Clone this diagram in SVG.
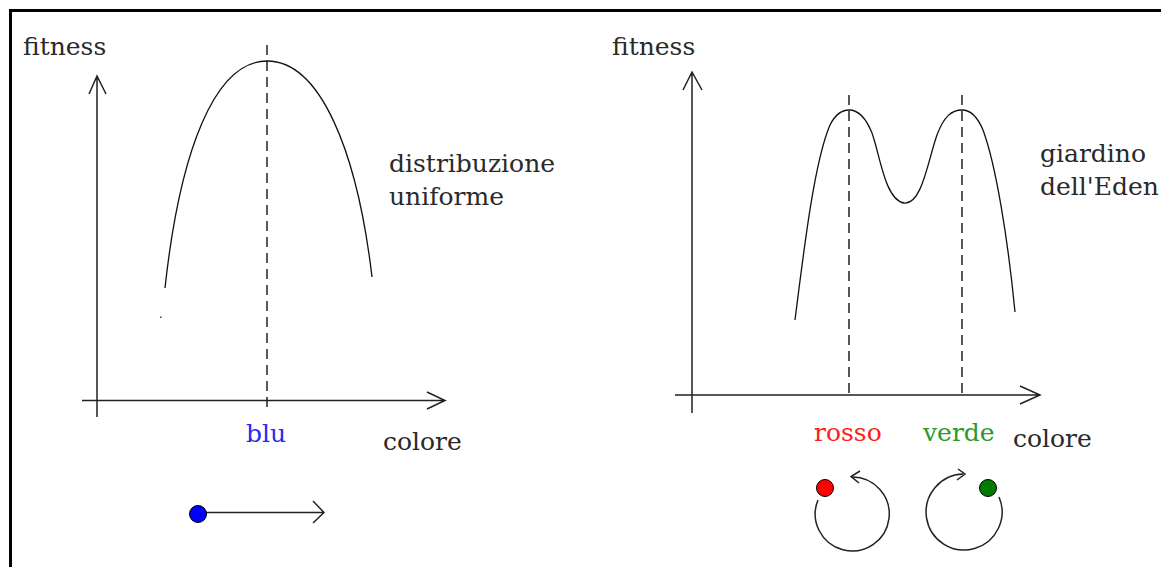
<svg xmlns="http://www.w3.org/2000/svg" width="1161" height="567" viewBox="0 0 1161 567">
<style>
.t{font-family:"DejaVu Serif","Liberation Serif",serif;font-size:25px;fill:#2a2a2a}
.ax{stroke:#222;stroke-width:1.5;fill:none}
.cv{stroke:#111;stroke-width:1.3;fill:none}
.ds{stroke:#222;stroke-width:1.5;fill:none;stroke-dasharray:10 6}
.dot{stroke:#000;stroke-width:1}
</style>
<rect x="0" y="0" width="1161" height="567" fill="#fff"/>
<rect x="10.5" y="10.5" width="1200" height="600" fill="none" stroke="#000" stroke-width="3"/>

<g id="left-chart">
  <path class="ax" d="M97,76 L97,417 M89,94 L97,76 L106,94"/>
  <path class="ax" d="M82,400.5 L445,400.5 M427,392 L445,400.5 L427,409"/>
  <path class="ds" d="M267,45 L267,408"/>
  <path class="cv" d="M165,288 C180,150 215,61 267,61 C320,61 357,150 372,277"/>
  <rect x="160" y="316.5" width="1.5" height="1.5" fill="#444"/>
  <text class="t" x="23" y="55">fitness</text>
  <text class="t" x="389" y="172">distribuzione</text>
  <text class="t" x="389" y="205">uniforme</text>
  <text class="t" x="246" y="442" style="fill:#2a2af0">blu</text>
  <text class="t" x="383" y="450">colore</text>
</g>

<g id="right-chart">
  <path class="ax" d="M692,72 L692,413 M683,90 L692,72 L702,90"/>
  <path class="ax" d="M675,395 L1040,395 M1020,386 L1040,395 L1020,404"/>
  <path class="ds" d="M849,95 L849,398 M962,95 L962,398"/>
  <path class="cv" d="M795,320 C805,240 815,160 830,125 C836,113 842,110 849,110 C858,110 866,118 872,133 C880,155 885,200 904,203 C922,205 928,160 937,135 C944,116 952,110 962,110 C972,110 978,118 983,130 C996,165 1008,240 1015,312"/>
  <text class="t" x="612" y="55">fitness</text>
  <text class="t" x="1040" y="162">giardino</text>
  <text class="t" x="1040" y="195">dell'Eden</text>
  <text class="t" x="814" y="441" style="fill:#ff2020">rosso</text>
  <text class="t" x="923" y="441" style="fill:#2a9a2a">verde</text>
  <text class="t" x="1013" y="447">colore</text>
</g>

<g id="connectors">
  <g id="blue-move">
    <path class="ax" d="M206,512.5 L324,512.5 M313,501 L324,512.5 L313,523"/>
    <circle class="dot" cx="198" cy="514" r="8.5" fill="#0000ff"/>
  </g>
  <g id="red-loop">
    <path class="ax" d="M818,500 A37,37 0 1 0 852,477"/>
    <path class="ax" d="M860,471 L851,476.5 L859,483"/>
    <circle class="dot" cx="825" cy="488" r="8.5" fill="#ff0000"/>
  </g>
  <g id="green-loop">
    <path class="ax" d="M999,497 A38,38 0 1 1 963,474"/>
    <path class="ax" d="M958,469 L965,474 L957,480"/>
    <circle class="dot" cx="988" cy="488" r="8.5" fill="#007a00"/>
  </g>
</g>
</svg>
